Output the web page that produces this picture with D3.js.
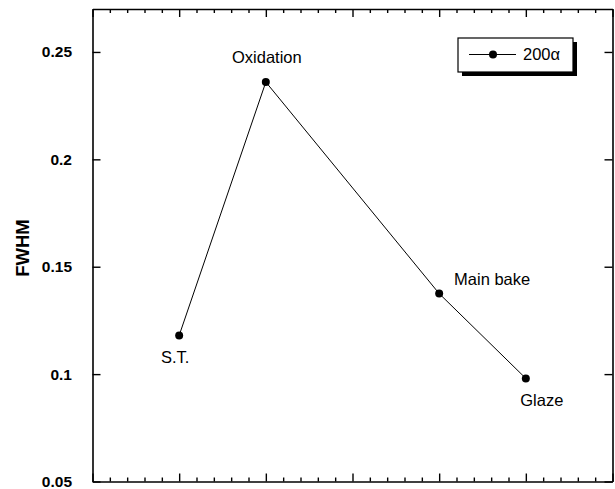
<!DOCTYPE html>
<html>
<head>
<meta charset="utf-8">
<script src="https://cdn.jsdelivr.net/npm/d3@7"></script>
<style>
  html, body { margin: 0; padding: 0; background: #fff; }
  svg { display: block; }
  text { font-family: "Liberation Sans", Arial, sans-serif; fill: #000; }
</style>
</head>
<body>
<div id="chart"></div>
<script>
// ---- Data ----
const stages = ["S.T.", "Oxidation", "Main bake", "Glaze"];
const stagePositions = [1, 2, 4, 5];
const fwhm200 = [0.118, 0.236, 0.1375, 0.098];
const seriesName = "200α";
const yTicks = [0.05, 0.1, 0.15, 0.2, 0.25];
const yTickLabels = ["0.05", "0.1", "0.15", "0.2", "0.25"];
const yTitle = "FWHM";

// ---- Layout ----
const W = 615, H = 489;
const mLeft = 92.5, mRight = 612.5, mTop = 9, mBottom = 481.5;

const svg = d3.select("#chart").append("svg").attr("width", W).attr("height", H);

const x = d3.scaleLinear().domain([0, 6]).range([mLeft, mRight]);
const y = d3.scaleLinear().domain([0.05, 0.27]).range([mBottom, mTop]);

const majorX = d3.range(0, 7);
const minorX = d3.range(0, 6.001, 0.2).filter(v => Math.abs(v - Math.round(v)) > 1e-6);

// Bottom axis (ticks inward)
svg.append("g").attr("transform", `translate(0,${mBottom})`)
  .call(d3.axisBottom(x).tickValues(majorX).tickSizeInner(-8).tickSizeOuter(0).tickFormat(""));
svg.append("g").attr("transform", `translate(0,${mBottom})`)
  .call(d3.axisBottom(x).tickValues(minorX).tickSizeInner(-4).tickSizeOuter(0).tickFormat(""))
  .select(".domain").remove();
// Top axis
svg.append("g").attr("transform", `translate(0,${mTop})`)
  .call(d3.axisTop(x).tickValues(majorX).tickSizeInner(-8).tickSizeOuter(0).tickFormat(""));
svg.append("g").attr("transform", `translate(0,${mTop})`)
  .call(d3.axisTop(x).tickValues(minorX).tickSizeInner(-4).tickSizeOuter(0).tickFormat(""))
  .select(".domain").remove();
// Left axis
svg.append("g").attr("transform", `translate(${mLeft},0)`)
  .call(d3.axisLeft(y).tickValues(yTicks).tickSizeInner(-8).tickSizeOuter(0).tickPadding(20.5)
    .tickFormat((d, i) => yTickLabels[i]))
  .call(g => g.selectAll("text").attr("font-size", 15.5).attr("font-weight", "bold")
    .attr("font-family", "Liberation Sans, Arial, sans-serif"));
// Right axis
svg.append("g").attr("transform", `translate(${mRight},0)`)
  .call(d3.axisRight(y).tickValues(yTicks).tickSizeInner(-8).tickSizeOuter(0).tickFormat(""));

svg.selectAll(".domain").attr("stroke", "#000").attr("stroke-width", 1.6);
svg.selectAll(".tick line").attr("stroke", "#000").attr("stroke-width", 1.4);

// Y title
svg.append("text")
  .attr("transform", `translate(29,248) rotate(-90)`)
  .attr("text-anchor", "middle")
  .attr("font-size", 18.5).attr("font-weight", "bold")
  .text(yTitle);

// Data
const pts = stages.map((s, i) => ({ name: s, xv: stagePositions[i], yv: fwhm200[i] }));
svg.append("path").datum(pts)
  .attr("fill", "none").attr("stroke", "#000").attr("stroke-width", 1)
  .attr("d", d3.line().x(d => x(d.xv)).y(d => y(d.yv)));
svg.selectAll("circle.pt").data(pts).enter().append("circle")
  .attr("class", "pt").attr("cx", d => x(d.xv)).attr("cy", d => y(d.yv)).attr("r", 4).attr("fill", "#000");

// Point labels (offsets in px)
const labelOffsets = [[-4, 28], [1, -19.5], [53, -9], [16, 28]];
svg.selectAll("text.lbl").data(pts).enter().append("text")
  .attr("class", "lbl")
  .attr("x", (d, i) => x(d.xv) + labelOffsets[i][0])
  .attr("y", (d, i) => y(d.yv) + labelOffsets[i][1])
  .attr("text-anchor", "middle").attr("font-size", 16.5)
  .text(d => d.name);

// Legend
const lg = svg.append("g");
lg.append("rect").attr("x", 462).attr("y", 42).attr("width", 115).attr("height", 34).attr("fill", "#000");
lg.append("rect").attr("x", 458).attr("y", 38).attr("width", 115).attr("height", 34)
  .attr("fill", "#fff").attr("stroke", "#000").attr("stroke-width", 1.2);
lg.append("line").attr("x1", 469).attr("x2", 516).attr("y1", 54.5).attr("y2", 54.5)
  .attr("stroke", "#000").attr("stroke-width", 1);
lg.append("circle").attr("cx", 493).attr("cy", 54.5).attr("r", 4).attr("fill", "#000");
lg.append("text").attr("x", 523).attr("y", 60).attr("font-size", 16.5).text(seriesName);
</script>
</body>
</html>
